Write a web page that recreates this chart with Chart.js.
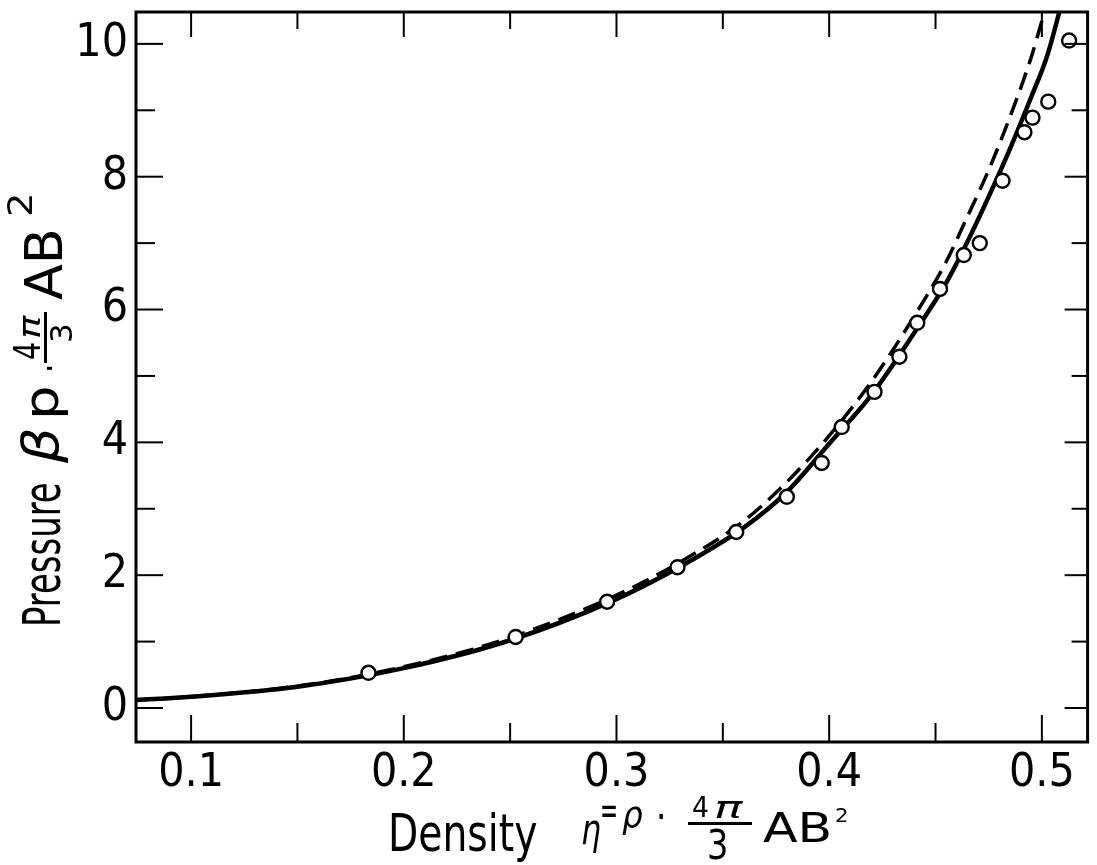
<!DOCTYPE html>
<html>
<head>
<meta charset="utf-8">
<script src="https://cdn.jsdelivr.net/npm/chart.js@4.4.1/dist/chart.umd.min.js"></script>
<style>
  html, body { margin: 0; padding: 0; background: #fff; }
  #wrap { position: relative; width: 1097px; height: 865px; overflow: hidden; }
  #c { position: absolute; left: 0; top: 0; }
  .t { position: absolute; font-family: 'DejaVu Sans Condensed', 'Liberation Sans Narrow', 'Liberation Sans', sans-serif; line-height: 1; white-space: nowrap; color: #000; transform-origin: 0 0; }
  .bar { position: absolute; background: #000; }
  #ytitle { position: absolute; left: 0; top: 627px; width: 480px; height: 80px; transform: rotate(-90deg); transform-origin: 0 0; }
</style>
</head>
<body>
<div id="wrap">
  <canvas id="c" width="1097" height="865"></canvas>
  <div id="xtitle"></div>
  <div id="ytitle"></div>
</div>
<script>
// ---------- data ----------
const simEta      = [0.1834, 0.2526, 0.2956, 0.3287, 0.3563, 0.3801, 0.3965, 0.4059, 0.4213, 0.4330, 0.4414, 0.4521, 0.4633, 0.4708, 0.4815, 0.4918, 0.4956, 0.5030, 0.5128];
const simPressure = [0.53,   1.07,   1.60,   2.12,   2.65,   3.18,   3.69,   4.23,   4.76,   5.29,   5.80,   6.31,   6.82,   7.00,   7.94,   8.67,   8.89,   9.13,   10.05];

const solidEta      = [0.0741, 0.10, 0.15, 0.20, 0.25, 0.30, 0.33, 0.36, 0.38, 0.40, 0.42, 0.44, 0.455, 0.465, 0.475, 0.485, 0.495, 0.5025, 0.5082, 0.512];
const solidPressure = [0.12,   0.17, 0.32, 0.60, 1.02, 1.64, 2.13, 2.72, 3.25, 3.98, 4.72, 5.65, 6.40,  7.02,  7.70,  8.42,  9.20,  9.82,   10.48,  10.95];

const dashedEta      = [0.0741, 0.10, 0.15, 0.20, 0.25, 0.30, 0.33, 0.36, 0.38, 0.40, 0.42, 0.44, 0.455, 0.465, 0.475, 0.485, 0.495, 0.5012, 0.505];
const dashedPressure = [0.12,   0.17, 0.33, 0.62, 1.06, 1.70, 2.20, 2.82, 3.40, 4.10, 4.92, 5.90, 6.72,  7.40,  8.10,  8.90,  9.80,  10.48,  10.90];

const xTickValues = [0.1, 0.2, 0.3, 0.4, 0.5];
const xTickLabels = ['0.1', '0.2', '0.3', '0.4', '0.5'];
const xMinorValues = [0.15, 0.25, 0.35, 0.45];
const yTickValues = [0, 2, 4, 6, 8, 10];
const yTickLabels = ['0', '2', '4', '6', '8', '10'];
const yMinorValues = [1, 3, 5, 7, 9];

const xRange = [0.0741, 0.5215];
const yRange = [-0.512, 10.48];

// ---------- helpers ----------
const toPts = (xs, ys) => xs.map((x, i) => ({ x: x, y: ys[i] }));
const tickFont = { family: "'DejaVu Sans Condensed', 'Liberation Sans Narrow', 'Liberation Sans', sans-serif", size: 46 };

const framePlugin = {
  id: 'frame',
  afterDatasetsDraw(chart) {
    const { ctx, chartArea: a, scales: { x, y } } = chart;
    ctx.save();
    ctx.strokeStyle = '#000';
    ctx.lineCap = 'butt';
    const ln = (x1, y1, x2, y2) => { ctx.beginPath(); ctx.moveTo(x1, y1); ctx.lineTo(x2, y2); ctx.stroke(); };
    ctx.lineWidth = 2;
    xTickValues.forEach(v => { const p = x.getPixelForValue(v); ln(p, a.bottom, p, a.bottom - 27); ln(p, a.top, p, a.top + 25); });
    xMinorValues.forEach(v => { const p = x.getPixelForValue(v); ln(p, a.bottom, p, a.bottom - 19); ln(p, a.top, p, a.top + 17); });
    yTickValues.forEach(v => { const p = y.getPixelForValue(v); ln(a.left, p, a.left + 27, p); ln(a.right, p, a.right - 23, p); });
    yMinorValues.forEach(v => { const p = y.getPixelForValue(v); ln(a.left, p, a.left + 19, p); ln(a.right, p, a.right - 16, p); });
    ctx.lineWidth = 3;
    ctx.strokeRect(a.left, a.top, a.right - a.left, a.bottom - a.top);
    ctx.restore();
  }
};

new Chart(document.getElementById('c'), {
  type: 'scatter',
  data: {
    datasets: [
      {
        label: 'Simulation',
        data: toPts(simEta, simPressure),
        showLine: false,
        pointRadius: 7,
        pointBackgroundColor: '#fff',
        pointBorderColor: '#000',
        pointBorderWidth: 2.4
      },
      {
        label: 'Theory (solid)',
        data: toPts(solidEta, solidPressure),
        showLine: true,
        borderColor: '#000',
        borderWidth: 4.5,
        pointRadius: 0,
        cubicInterpolationMode: 'monotone'
      },
      {
        label: 'Theory (dashed)',
        data: toPts(dashedEta, dashedPressure),
        showLine: true,
        borderColor: '#000',
        borderWidth: 3.5,
        borderDash: [18, 9],
        pointRadius: 0,
        cubicInterpolationMode: 'monotone'
      }
    ]
  },
  options: {
    responsive: false,
    animation: false,
    events: [],
    layout: { padding: { left: 0, right: 4, top: 12, bottom: 0 } },
    plugins: { legend: { display: false }, tooltip: { enabled: false } },
    scales: {
      x: {
        type: 'linear',
        min: xRange[0], max: xRange[1],
        afterBuildTicks: s => { s.ticks = xTickValues.map(v => ({ value: v })); },
        afterFit: s => { s.height = 123; s.paddingLeft = 0; s.paddingRight = 0; },
        ticks: {
          callback: (v, i) => xTickLabels[i],
          font: tickFont, color: '#000', padding: 4, maxRotation: 0, minRotation: 0, autoSkip: false
        },
        grid: { display: false, drawTicks: false },
        border: { display: false }
      },
      y: {
        type: 'linear',
        min: yRange[0], max: yRange[1],
        afterBuildTicks: s => { s.ticks = yTickValues.map(v => ({ value: v })); },
        afterFit: s => { s.width = 136; s.paddingTop = 0; s.paddingBottom = 0; },
        ticks: {
          callback: (v, i) => yTickLabels[i],
          font: tickFont, color: '#000', padding: 8, autoSkip: false
        },
        grid: { display: false, drawTicks: false },
        border: { display: false }
      }
    }
  },
  plugins: [framePlugin]
});

// ---------- axis titles (real text, with fractions) ----------
function place(parent, text, x, baseline, fs, width, italic) {
  const s = document.createElement('div');
  s.className = 't';
  s.textContent = text;
  s.style.fontSize = fs + 'px';
  s.style.left = x + 'px';
  s.style.top = (baseline - 0.846 * fs) + 'px';
  if (italic) s.style.fontStyle = 'italic';
  parent.appendChild(s);
  const w = s.offsetWidth;
  if (width && w > 0) s.style.transform = 'scaleX(' + (width / w) + ')';
  return s;
}
function bar(parent, x, y, w, h) {
  const b = document.createElement('div');
  b.className = 'bar';
  b.style.left = x + 'px'; b.style.top = y + 'px';
  b.style.width = w + 'px'; b.style.height = h + 'px';
  parent.appendChild(b);
}

const xt = document.getElementById('xtitle');
place(xt, 'Density', 388, 851, 51, 149);
place(xt, 'η', 581, 845, 42, 20, true);
place(xt, '=', 600, 824, 40, 18);
place(xt, 'ρ', 622, 827, 38, 21, true);
place(xt, '·', 656, 831, 40, 10);
place(xt, '4', 692, 818, 28, 17);
place(xt, 'π', 714, 818, 30, 28, true);
bar(xt, 688, 822, 64, 2.5);
place(xt, '3', 707, 860, 41, 21);
place(xt, 'AB', 763, 843, 41, 70);
place(xt, '2', 835, 822, 20, 13);

const yt = document.getElementById('ytitle');
place(yt, 'Pressure', 0, 60, 51, 145);
place(yt, 'β', 164, 58, 50, 36, true);
place(yt, 'p', 207, 58, 48, 34);
place(yt, '·', 254, 64, 40, 9);
place(yt, '4', 267, 40, 37, 18);
place(yt, 'π', 288, 40, 30, 23, true);
bar(yt, 264, 44, 51, 2.5);
place(yt, '3', 284, 72, 31, 20);
place(yt, 'AB', 327, 62, 51, 72);
place(yt, '2', 410, 32, 34, 24);
</script>
</body>
</html>
